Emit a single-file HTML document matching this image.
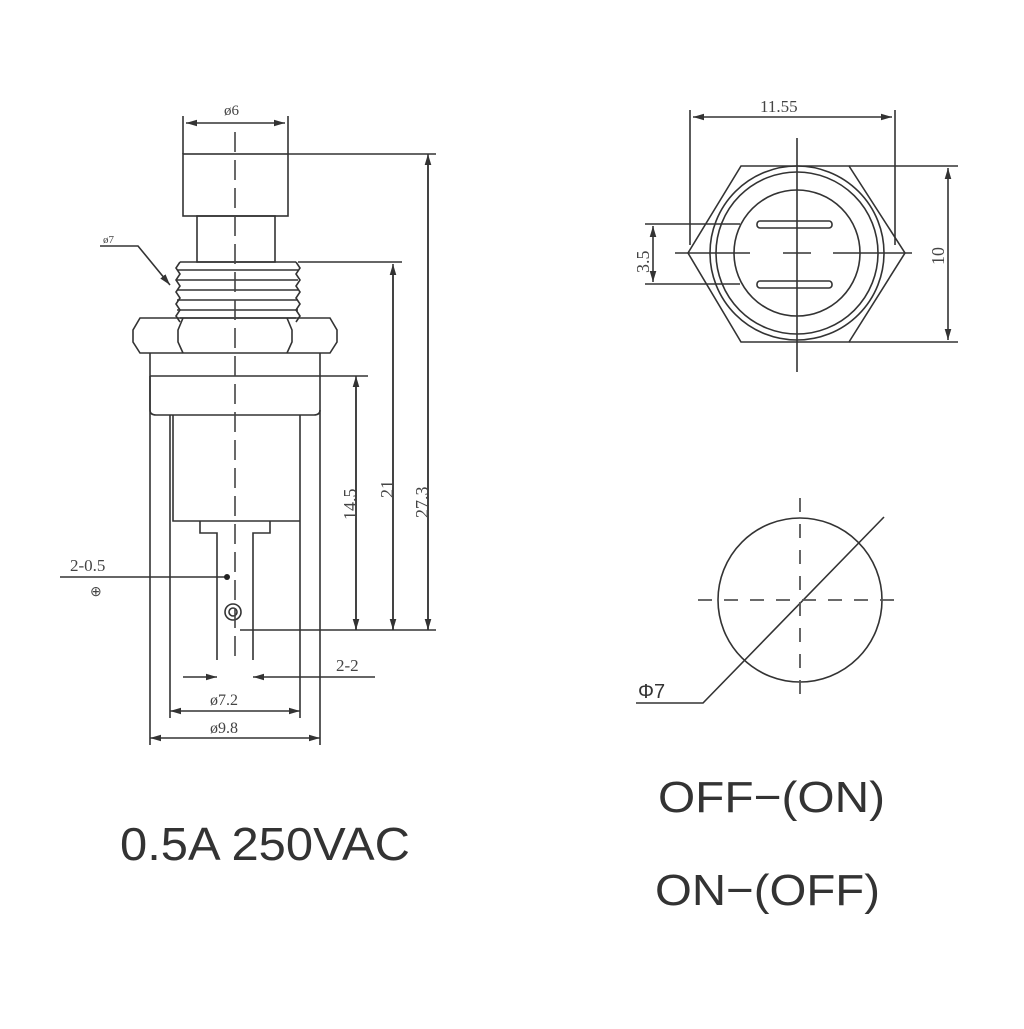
<!DOCTYPE html>
<html><head><style>html,body{margin:0;padding:0;background:#fff}</style></head><body>
<svg width="1024" height="1024" viewBox="0 0 1024 1024" xmlns="http://www.w3.org/2000/svg">
<defs>
<marker id="a" viewBox="0 0 10 10" refX="10" refY="5" markerWidth="7" markerHeight="7" orient="auto-start-reverse"><path d="M0,2 L10,5 L0,8 z" fill="#333"/></marker>
</defs>
<g stroke="#333" stroke-width="1.6" fill="none">
<rect x="183" y="154" width="105" height="62"/>
<line x1="183" y1="154" x2="183" y2="116"/><line x1="288" y1="154" x2="288" y2="116"/>
<line x1="186" y1="123" x2="285" y2="123" marker-start="url(#a)" marker-end="url(#a)"/>
<rect x="197" y="216" width="78" height="46"/>
<path d="M180,262 H296 M177,270 H298 M177,280 H298 M177,290 H298 M177,300 H298 M177,310 H298 M180,318 H296"/>
<path d="M180,262 l-4,6 4,6 -4,6 4,6 -4,6 4,6 -4,6 4,6 -4,6 4,6 M296,262 l4,6 -4,6 4,6 -4,6 4,6 -4,6 4,6 -4,6 4,6 -4,6"/>
<path d="M140,318 H330 L337,330 V342 L330,353 H140 L133,342 V330 Z"/>
<path d="M183,318 L178,330 V342 L183,353 M287,318 L292,330 V342 L287,353"/>
<path d="M150,353 V745 M320,353 V745 M150,376 H320"/>
<path d="M150,376 V410 Q150,415 156,415 H314 Q320,415 320,410"/>
<path d="M170,415 V718 M300,415 V718 M173,415 V521 H300 V415"/>
<path d="M200,521 V533 H217 V660 M270,521 V533 H253 V660"/>
<circle cx="233" cy="612" r="8"/><circle cx="233" cy="612" r="4"/>
<line x1="288" y1="154" x2="436" y2="154"/>
<line x1="298" y1="262" x2="402" y2="262"/>
<line x1="320" y1="376" x2="368" y2="376"/>
<line x1="240" y1="630" x2="436" y2="630"/>
<line x1="428" y1="630" x2="428" y2="154" marker-end="url(#a)"/>
<line x1="428" y1="160" x2="428" y2="630" marker-end="url(#a)"/>
<line x1="393" y1="630" x2="393" y2="264" marker-end="url(#a)"/>
<line x1="393" y1="270" x2="393" y2="630" marker-end="url(#a)"/>
<line x1="356" y1="630" x2="356" y2="376" marker-end="url(#a)"/>
<line x1="356" y1="380" x2="356" y2="630" marker-end="url(#a)"/>
<line x1="60" y1="577" x2="228" y2="577"/>
<polyline points="100,246 138,246 170,285" marker-end="url(#a)"/>
<line x1="183" y1="677" x2="217" y2="677" marker-end="url(#a)"/>
<line x1="253" y1="677" x2="375" y2="677" marker-start="url(#a)"/>
<line x1="170" y1="711" x2="300" y2="711" marker-start="url(#a)" marker-end="url(#a)"/>
<line x1="150" y1="738" x2="320" y2="738" marker-start="url(#a)" marker-end="url(#a)"/>
</g>
<circle cx="227" cy="577" r="3" fill="#222"/>
<g stroke="#444" stroke-width="1.6" stroke-dasharray="20,8">
<line x1="235" y1="132" x2="235" y2="660"/>
</g>
<g stroke="#333" stroke-width="1.6" fill="none">
<polygon points="741,166 849,166 905,253 849,342 741,342 688,253"/>
<circle cx="797" cy="253" r="87"/><circle cx="797" cy="253" r="81"/><circle cx="797" cy="253" r="63"/>
<rect x="757" y="221" width="75" height="7" rx="3"/><rect x="757" y="281" width="75" height="7" rx="3"/>
<line x1="797" y1="138" x2="797" y2="372"/>
<line x1="675" y1="253" x2="750" y2="253"/><line x1="783" y1="253" x2="811" y2="253"/><line x1="833" y1="253" x2="912" y2="253"/>
<line x1="690" y1="110" x2="690" y2="245"/><line x1="895" y1="110" x2="895" y2="245"/>
<line x1="693" y1="117" x2="892" y2="117" marker-start="url(#a)" marker-end="url(#a)"/>
<line x1="849" y1="166" x2="958" y2="166"/><line x1="849" y1="342" x2="958" y2="342"/>
<line x1="948" y1="168" x2="948" y2="340" marker-start="url(#a)" marker-end="url(#a)"/>
<line x1="645" y1="224" x2="740" y2="224"/><line x1="645" y1="284" x2="740" y2="284"/>
<line x1="653" y1="226" x2="653" y2="282" marker-start="url(#a)" marker-end="url(#a)"/>
<circle cx="800" cy="600" r="82"/>
<polyline points="636,703 703,703 884,517"/>
</g>
<g stroke="#555" stroke-width="1.8" stroke-dasharray="14,12">
<line x1="800" y1="498" x2="800" y2="702"/><line x1="698" y1="600" x2="902" y2="600"/>
</g>
<g font-family="Liberation Serif, serif" fill="#444" font-size="15">
<text x="224" y="115">ø6</text>
<text x="103" y="243" font-size="11">ø7</text>
<text x="70" y="571" font-size="17">2-0.5</text>
<text x="90" y="596" font-size="14">⊕</text>
<text x="336" y="671" font-size="17">2-2</text>
<text x="210" y="705" font-size="16">ø7.2</text>
<text x="210" y="733" font-size="16">ø9.8</text>
<text x="760" y="112" font-size="17">11.55</text>
<text transform="translate(356,520) rotate(-90)" font-size="18">14.5</text>
<text transform="translate(393,498) rotate(-90)" font-size="18">21</text>
<text transform="translate(428,518) rotate(-90)" font-size="18">27.3</text>
<text transform="translate(944,265) rotate(-90)" font-size="18">10</text>
<text transform="translate(649,273) rotate(-90)" font-size="18">3.5</text>
</g>
<g font-family="Liberation Sans, sans-serif" fill="#333">
<text x="638" y="698" font-size="20">Φ7</text>
<text x="120" y="860" font-size="46" textLength="290" lengthAdjust="spacingAndGlyphs">0.5A 250VAC</text>
<text x="658" y="812" font-size="44" textLength="227" lengthAdjust="spacingAndGlyphs">OFF−(ON)</text>
<text x="655" y="905" font-size="44" textLength="225" lengthAdjust="spacingAndGlyphs">ON−(OFF)</text>
</g>
</svg>
</body></html>
